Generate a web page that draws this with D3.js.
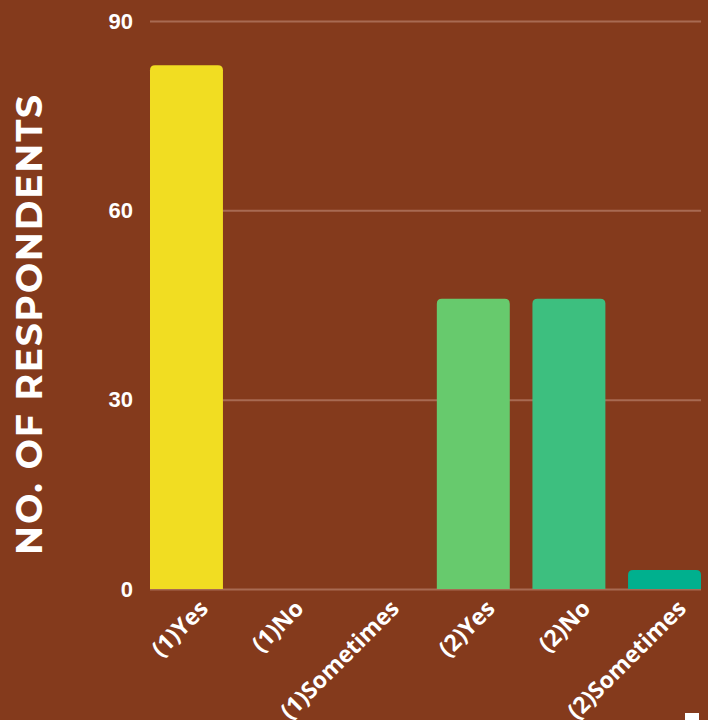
<!DOCTYPE html>
<html>
<head>
<meta charset="utf-8">
<script src="https://cdn.jsdelivr.net/npm/d3@7"></script>
<style>
  html, body { margin: 0; padding: 0; background: #843a1c; }
  svg { display: block; }
</style>
</head>
<body>
<svg id="chart" width="708" height="720"></svg>
<script>
// Survey responses per answer
const categories = ["(1)Yes", "(1)No", "(1)Sometimes", "(2)Yes", "(2)No", "(2)Sometimes"];
const values = [83, 0, 0, 46, 46, 3];
const barColors = ["#f1dd22", "#f1dd22", "#f1dd22", "#67ca6d", "#3dbf7f", "#00b08e"];
const yTicks = [0, 30, 60, 90];
const yTitle = "NO. OF RESPONDENTS";

const svg = d3.select("#chart");
const W = 708, H = 720;
const plot = { left: 150, right: 701, top: 21, bottom: 589 };

svg.append("rect").attr("width", W).attr("height", H).attr("fill", "#843a1c");

const x = d3.scaleBand()
  .domain(categories)
  .range([plot.left, plot.right])
  .paddingInner(0.237)
  .paddingOuter(0);

const y = d3.scaleLinear().domain([0, 90]).range([plot.bottom, plot.top]);

// gridlines + tick labels
const yAxis = d3.axisLeft(y).tickValues(yTicks).tickSize(-(plot.right - plot.left)).tickPadding(17);
const gy = svg.append("g").attr("transform", `translate(${plot.left},0)`).call(yAxis);
gy.select(".domain").remove();
gy.attr("font-size", null).attr("font-family", null);
gy.selectAll(".tick line").attr("stroke", "#a86a52").attr("stroke-width", 2);
gy.selectAll(".tick text")
  .attr("fill", "#ffffff")
  .style("font-family", "'Liberation Sans', Arial, sans-serif")
  .style("font-weight", "bold")
  .style("font-size", "22px");

// bars with rounded top corners
function topRounded(x0, y0, w, h, r) {
  if (h <= 0) return "";
  r = Math.min(r, h, w / 2);
  return `M${x0},${y0 + h}V${y0 + r}Q${x0},${y0} ${x0 + r},${y0}H${x0 + w - r}Q${x0 + w},${y0} ${x0 + w},${y0 + r}V${y0 + h}Z`;
}
svg.append("g").selectAll("path")
  .data(categories.map((c, i) => ({ c, v: values[i], col: barColors[i] })))
  .join("path")
  .attr("d", d => topRounded(x(d.c), y(d.v), x.bandwidth(), y(0) - y(d.v), 5))
  .attr("fill", d => d.col);

// x labels rotated
const xAxis = d3.axisBottom(x).tickSize(0).tickPadding(0);
const gx = svg.append("g").attr("transform", `translate(0,${plot.bottom})`).call(xAxis);
gx.select(".domain").remove();
gx.attr("font-size", null).attr("font-family", null);
gx.selectAll(".tick text")
  .attr("fill", "#ffffff")
  .style("font-family", "'Open Sans', sans-serif")
  .style("font-weight", "bold")
  .style("font-size", "23px")
  .attr("text-anchor", "end")
  .attr("dy", 0)
  .attr("y", 0)
  .attr("transform", "translate(23,21) rotate(-45)");

// y axis title
svg.append("text")
  .attr("transform", "translate(42,325) rotate(-90)")
  .attr("text-anchor", "middle")
  .attr("fill", "#ffffff")
  .style("font-family", "Montserrat, 'DejaVu Sans', sans-serif")
  .style("font-weight", "bold")
  .style("font-size", "36px")
  .attr("textLength", 460)
  .attr("lengthAdjust", "spacing")
  .text(yTitle);

// partially visible marker in the lower right corner
svg.append("rect").attr("x", 685).attr("y", 713).attr("width", 14).attr("height", 8).attr("fill", "#ffffff");
</script>
</body>
</html>
